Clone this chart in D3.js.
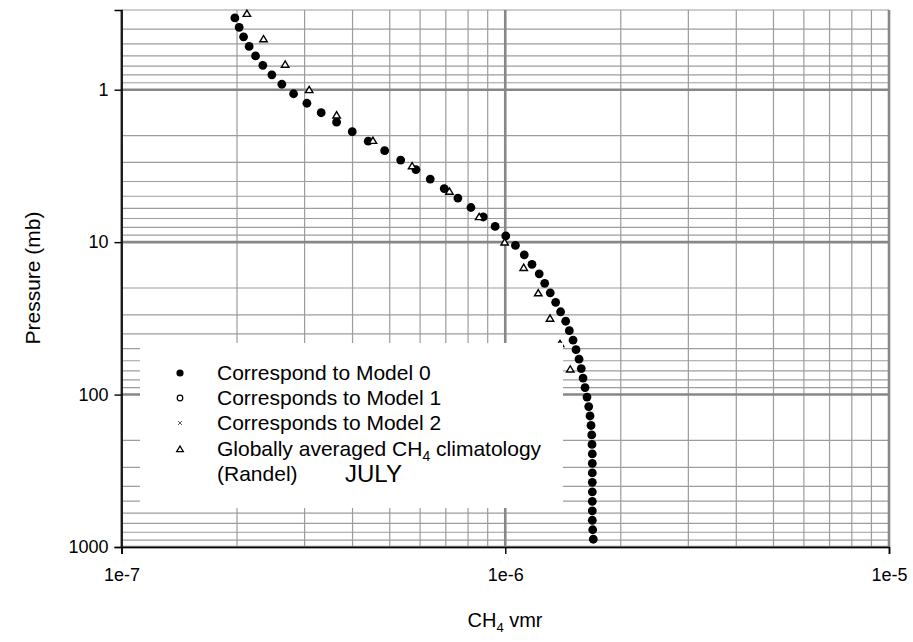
<!DOCTYPE html>
<html>
<head>
<meta charset="utf-8">
<script src="https://cdn.jsdelivr.net/npm/d3@7"></script>
<style>
  html, body { margin: 0; padding: 0; background: #fff; }
  svg { display: block; font-family: "Liberation Sans", Arial, sans-serif; }
</style>
</head>
<body>
<svg id="chart" width="913" height="642"></svg>
<script>
// Model pressure levels (mb) and CH4 volume mixing ratio, Model 0
const pressureModel = [
  0.338, 0.390, 0.450, 0.520, 0.600, 0.692, 0.799, 0.921, 1.063, 1.227,
  1.416, 1.634, 1.885, 2.175, 2.510, 2.897, 3.343, 3.858, 4.452, 5.136,
  5.927, 6.839, 7.890, 9.106, 10.51, 12.12, 13.99, 16.14, 18.63, 21.50,
  24.81, 28.63, 33.03, 38.12, 43.99, 50.76, 58.57, 67.57, 77.98, 89.99,
  103.8, 119.8, 138.2, 159.5, 184.1, 212.4, 245.1, 282.8, 326.4, 376.7,
  434.6, 501.5, 578.7, 667.8, 770.6, 889.2
];
const ch4Model0 = [
  1.974e-7, 2.026e-7, 2.080e-7, 2.151e-7, 2.235e-7, 2.335e-7, 2.465e-7, 2.617e-7, 2.808e-7, 3.042e-7,
  3.314e-7, 3.635e-7, 3.993e-7, 4.395e-7, 4.850e-7, 5.339e-7, 5.851e-7, 6.376e-7, 6.934e-7, 7.526e-7,
  8.140e-7, 8.765e-7, 9.412e-7, 1.003e-6, 1.063e-6, 1.121e-6, 1.174e-6, 1.226e-6, 1.267e-6, 1.310e-6,
  1.353e-6, 1.394e-6, 1.437e-6, 1.469e-6, 1.502e-6, 1.529e-6, 1.557e-6, 1.578e-6, 1.595e-6, 1.614e-6,
  1.633e-6, 1.650e-6, 1.663e-6, 1.673e-6, 1.680e-6, 1.683e-6, 1.686e-6, 1.686e-6, 1.686e-6, 1.686e-6,
  1.686e-6, 1.686e-6, 1.686e-6, 1.686e-6, 1.690e-6, 1.696e-6
];
// Models 1 and 2 coincide with Model 0 on this profile
const ch4Model1 = [
  1.974e-7, 2.026e-7, 2.080e-7, 2.151e-7, 2.235e-7, 2.335e-7, 2.465e-7, 2.617e-7, 2.808e-7, 3.042e-7,
  3.314e-7, 3.635e-7, 3.993e-7, 4.395e-7, 4.850e-7, 5.339e-7, 5.851e-7, 6.376e-7, 6.934e-7, 7.526e-7,
  8.140e-7, 8.765e-7, 9.412e-7, 1.003e-6, 1.063e-6, 1.121e-6, 1.174e-6, 1.226e-6, 1.267e-6, 1.310e-6,
  1.353e-6, 1.394e-6, 1.437e-6, 1.469e-6, 1.502e-6, 1.529e-6, 1.557e-6, 1.578e-6, 1.595e-6, 1.614e-6,
  1.633e-6, 1.650e-6, 1.663e-6, 1.673e-6, 1.680e-6, 1.683e-6, 1.686e-6, 1.686e-6, 1.686e-6, 1.686e-6,
  1.686e-6, 1.686e-6, 1.686e-6, 1.686e-6, 1.690e-6, 1.696e-6
];
const ch4Model2 = [
  1.974e-7, 2.026e-7, 2.080e-7, 2.151e-7, 2.235e-7, 2.335e-7, 2.465e-7, 2.617e-7, 2.808e-7, 3.042e-7,
  3.314e-7, 3.635e-7, 3.993e-7, 4.395e-7, 4.850e-7, 5.339e-7, 5.851e-7, 6.376e-7, 6.934e-7, 7.526e-7,
  8.140e-7, 8.765e-7, 9.412e-7, 1.003e-6, 1.063e-6, 1.121e-6, 1.174e-6, 1.226e-6, 1.267e-6, 1.310e-6,
  1.353e-6, 1.394e-6, 1.437e-6, 1.469e-6, 1.502e-6, 1.529e-6, 1.557e-6, 1.578e-6, 1.595e-6, 1.614e-6,
  1.633e-6, 1.650e-6, 1.663e-6, 1.673e-6, 1.680e-6, 1.683e-6, 1.686e-6, 1.686e-6, 1.686e-6, 1.686e-6,
  1.686e-6, 1.686e-6, 1.686e-6, 1.686e-6, 1.690e-6, 1.696e-6
];

// Randel climatology, UARS standard pressure levels (mb)
const pressureRandel = [0.3162, 0.4642, 0.6813, 1.0, 1.468, 2.154, 3.162, 4.642, 6.813, 10.0, 14.68, 21.54, 31.62, 46.42, 68.13];
const ch4Randel = [2.122e-7, 2.345e-7, 2.670e-7, 3.084e-7, 3.635e-7, 4.520e-7, 5.719e-7, 7.153e-7, 8.551e-7, 9.964e-7, 1.117e-6, 1.219e-6, 1.308e-6, 1.389e-6, 1.477e-6];

// Axis ticks and labels
const xTickValues = [1e-7, 1e-6, 1e-5];
const xTickLabels = ["1e-7", "1e-6", "1e-5"];
const yTickValues = [1, 10, 100, 1000];
const yTickLabels = ["1", "10", "100", "1000"];

const legendLabels = [
  "Correspond to Model 0",
  "Corresponds to Model 1",
  "Corresponds to Model 2",
  "Globally averaged CH4 climatology",
  "(Randel)"
];
const monthLabel = "JULY";

const svg = d3.select("#chart");
const plot = { left: 121.5, right: 889, top: 10, bottom: 547 };

const x = d3.scaleLog().domain([1e-7, 1e-5]).range([plot.left, plot.right]);
const y = d3.scaleLog().domain([0.3, 1000]).range([plot.top, plot.bottom]);

const isDecade = v => Math.abs(Math.log10(v) - Math.round(Math.log10(v))) < 1e-9;

// Grid: minor lines first, decade lines on top
const grid = svg.append("g");
const xGrid = x.ticks();
const yGrid = y.ticks();

grid.selectAll(".vminor").data(xGrid.filter(v => !isDecade(v))).join("line")
  .attr("x1", d => x(d)).attr("x2", d => x(d))
  .attr("y1", plot.top).attr("y2", plot.bottom)
  .attr("stroke", "#9c9c9c").attr("stroke-width", 1.2);
grid.selectAll(".hminor").data(yGrid.filter(v => !isDecade(v))).join("line")
  .attr("x1", plot.left).attr("x2", plot.right)
  .attr("y1", d => y(d)).attr("y2", d => y(d))
  .attr("stroke", "#9c9c9c").attr("stroke-width", 1.2);
grid.selectAll(".vmajor").data(xGrid.filter(isDecade)).join("line")
  .attr("x1", d => x(d)).attr("x2", d => x(d))
  .attr("y1", plot.top).attr("y2", plot.bottom)
  .attr("stroke", "#878787").attr("stroke-width", 2.6);
grid.selectAll(".hmajor").data(yGrid.filter(isDecade)).join("line")
  .attr("x1", plot.left).attr("x2", plot.right)
  .attr("y1", d => y(d)).attr("y2", d => y(d))
  .attr("stroke", "#878787").attr("stroke-width", 2.6);

// Data
const marks = svg.append("g");
const tri = s => `M0,${-s}L${s * 1.1},${s * 0.85}L${-s * 1.1},${s * 0.85}Z`;

marks.selectAll(".m1").data(pressureModel).join("circle")
  .attr("cx", (d, i) => x(ch4Model1[i])).attr("cy", d => y(d)).attr("r", 3)
  .attr("fill", "#fff").attr("stroke", "#000").attr("stroke-width", 1.2);
marks.selectAll(".m2").data(pressureModel).join("path")
  .attr("transform", (d, i) => `translate(${x(ch4Model2[i])},${y(d)})`)
  .attr("d", "M-2,-2L2,2M-2,2L2,-2").attr("stroke", "#000").attr("stroke-width", 0.8);
marks.selectAll(".m0").data(pressureModel).join("circle")
  .attr("cx", (d, i) => x(ch4Model0[i])).attr("cy", d => y(d)).attr("r", 4.4)
  .attr("fill", "#000");
marks.selectAll(".rd").data(pressureRandel).join("path")
  .attr("transform", (d, i) => `translate(${x(ch4Randel[i])},${y(d)})`)
  .attr("d", tri(3.4))
  .attr("fill", "#fff").attr("stroke", "#000").attr("stroke-width", 1.4);

// Legend box (opaque, sits over grid and data)
const legend = svg.append("g");
legend.append("rect")
  .attr("x", 140).attr("y", 343).attr("width", 423).attr("height", 165)
  .attr("fill", "#fff");

const rowY = [373, 398, 423, 449, 474];
const markX = 180, textX = 217;
legend.append("circle").attr("cx", markX).attr("cy", rowY[0]).attr("r", 3.6).attr("fill", "#000");
legend.append("circle").attr("cx", markX).attr("cy", rowY[1]).attr("r", 2.8)
  .attr("fill", "#fff").attr("stroke", "#000").attr("stroke-width", 1.2);
legend.append("path").attr("transform", `translate(${markX},${rowY[2]})`)
  .attr("d", "M-2,-2L2,2M-2,2L2,-2").attr("stroke", "#333").attr("stroke-width", 0.8);
legend.append("path").attr("transform", `translate(${markX},${rowY[3]})`)
  .attr("d", tri(3)).attr("fill", "#fff").attr("stroke", "#000").attr("stroke-width", 1.3);

legendLabels.forEach((lab, i) => {
  const t = legend.append("text")
    .attr("x", textX).attr("y", rowY[i]).attr("dy", "0.35em")
    .attr("font-size", 21).attr("fill", "#000");
  if (lab.includes("CH4")) {
    const [a, b] = lab.split("CH4");
    t.append("tspan").text(a + "CH");
    t.append("tspan").attr("font-size", 14).attr("dy", 5).text("4");
    t.append("tspan").attr("dy", -5).text(b);
  } else {
    t.text(lab);
  }
});
legend.append("text")
  .attr("x", 345).attr("y", rowY[4]).attr("dy", "0.35em")
  .attr("font-size", 24).attr("fill", "#000").text(monthLabel);

// Axes
const axisFont = g => g.selectAll("text")
  .attr("font-family", "Liberation Sans, Arial, sans-serif")
  .attr("font-size", 18).attr("fill", "#000");

const xAxis = svg.append("g").attr("transform", `translate(0,${plot.bottom})`)
  .call(d3.axisBottom(x).tickValues(xTickValues)
    .tickFormat((d, i) => xTickLabels[i]).tickSize(7).tickPadding(14))
  .call(axisFont);
xAxis.select(".domain").attr("stroke", "#000").attr("stroke-width", 1.6);
xAxis.selectAll(".tick line").attr("stroke", "#000").attr("stroke-width", 1.4);

const yAxis = svg.append("g").attr("transform", `translate(${plot.left},0)`)
  .call(d3.axisLeft(y).tickValues(yTickValues)
    .tickFormat((d, i) => yTickLabels[i]).tickSize(7).tickPadding(6))
  .call(axisFont);
yAxis.select(".domain").attr("stroke", "#000").attr("stroke-width", 1.6);
yAxis.selectAll(".tick line").attr("stroke", "#000").attr("stroke-width", 1.4);

// Axis titles
const xTitle = svg.append("text")
  .attr("x", 505).attr("y", 627).attr("text-anchor", "middle")
  .attr("font-size", 20).attr("fill", "#000");
xTitle.append("tspan").text("CH");
xTitle.append("tspan").attr("font-size", 13).attr("dy", 5).text("4");
xTitle.append("tspan").attr("dy", -5).text(" vmr");

svg.append("text")
  .attr("transform", "translate(40,278) rotate(-90)")
  .attr("text-anchor", "middle")
  .attr("font-size", 21).attr("fill", "#000")
  .text("Pressure (mb)");
</script>
</body>
</html>
